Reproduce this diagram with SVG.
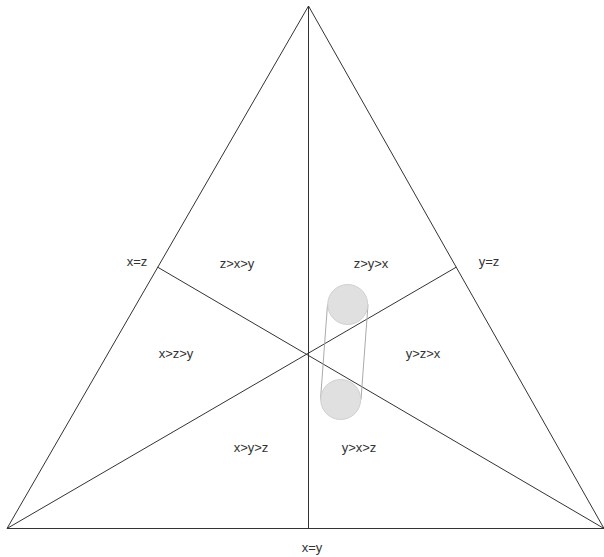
<svg xmlns="http://www.w3.org/2000/svg" width="604" height="557" viewBox="0 0 604 557">
<style>
.ln{stroke:#333;stroke-width:1;fill:none}
.t{font-family:"Liberation Sans",Arial,sans-serif;font-size:13px;fill:#333;text-anchor:middle}
.c{fill:#e0e0e0;stroke:#d0d0d0;stroke-width:1}
.tie{stroke:#aaa;stroke-width:1}
</style>
<rect width="604" height="557" fill="#fff"/>
<g id="connectors">
<path class="ln" d="M308.5,6 L7,528.5 L604,528.5 Z"/>
<line class="ln" x1="308.5" y1="6" x2="308.5" y2="528.5"/>
<line class="ln" x1="7" y1="528.5" x2="456.2" y2="267.2"/>
<line class="ln" x1="604" y1="528.5" x2="157.7" y2="267.2"/>
</g>
<g id="labels">
<text class="t" x="237" y="268">z&gt;x&gt;y</text>
<text class="t" x="371" y="268">z&gt;y&gt;x</text>
<text class="t" x="176" y="358">x&gt;z&gt;y</text>
<text class="t" x="423" y="358">y&gt;z&gt;x</text>
<text class="t" x="251" y="452">x&gt;y&gt;z</text>
<text class="t" x="359" y="452">y&gt;x&gt;z</text>
<text class="t" x="137" y="266">x=z</text>
<text class="t" x="489" y="266">y=z</text>
<text class="t" x="312" y="552">x=y</text>
</g>
<g id="pill">
<line class="tie" x1="327.5" y1="304.5" x2="320.5" y2="399.5"/>
<line class="tie" x1="368" y1="304.5" x2="361" y2="399.5"/>
<circle class="c" cx="347.7" cy="304.5" r="20"/>
<circle class="c" cx="340.7" cy="399.5" r="20"/>
</g>
</svg>
